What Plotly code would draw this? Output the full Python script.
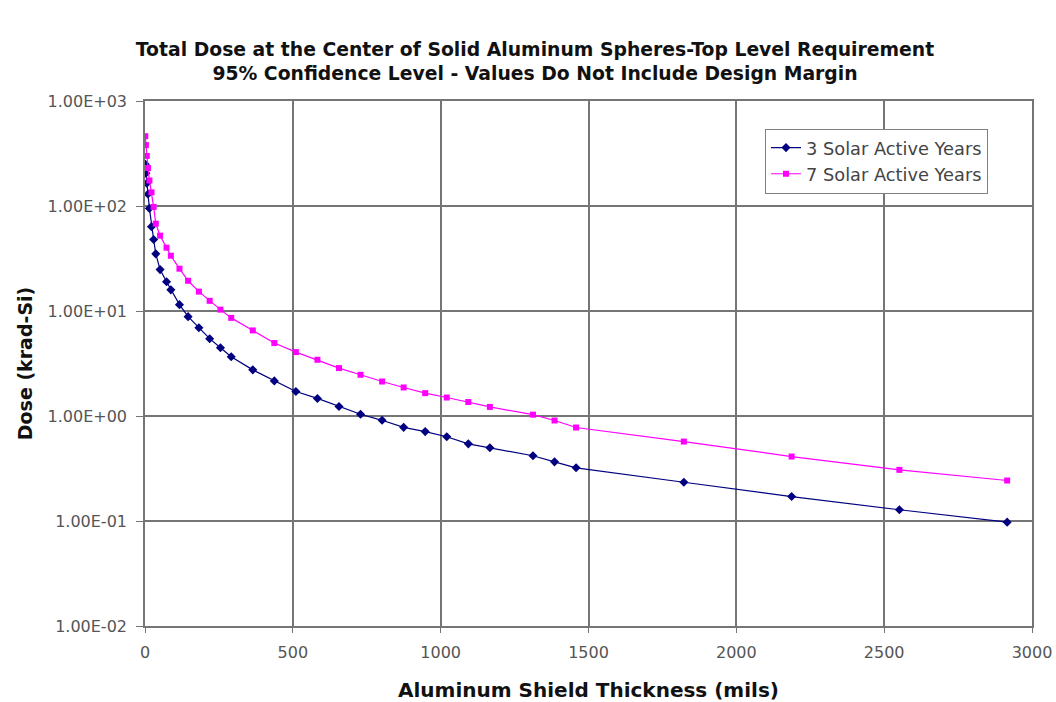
import plotly.graph_objects as go

# Aluminum shield thickness (mils)
thickness_mils = [1, 3, 6, 10, 15, 21.9, 29.2, 36.5, 51, 72.9, 87.5, 116.6, 145.8,
                  182.3, 218.7, 255.2, 291.6, 364.5, 437.4, 510.3, 583.2, 656.1,
                  729.0, 801.9, 874.8, 947.7, 1020.6, 1093.5, 1166.4, 1312.2,
                  1385.1, 1458.0, 1822.5, 2187.0, 2551.5, 2916.0]

# Dose (krad-Si)
dose_3yr = [250, 205, 165, 130, 95, 63.6, 48, 35, 24.8, 19.0, 15.9, 11.5, 8.83,
            6.93, 5.45, 4.47, 3.67, 2.75, 2.16, 1.71, 1.47, 1.23, 1.04, 0.91,
            0.78, 0.71, 0.634, 0.543, 0.498, 0.418, 0.366, 0.321, 0.234, 0.171,
            0.128, 0.0975]
dose_7yr = [462, 380, 300, 230, 175, 135, 98, 67.9, 52.2, 40.1, 33.6, 25.3, 19.4,
            15.3, 12.5, 10.3, 8.6, 6.53, 4.95, 4.06, 3.43, 2.86, 2.47, 2.13,
            1.87, 1.65, 1.50, 1.36, 1.22, 1.03, 0.906, 0.777, 0.571, 0.411,
            0.307, 0.243]

series_names = ["3 Solar Active Years", "7 Solar Active Years"]

y_tickvals = [1e-2, 1e-1, 1e0, 1e1, 1e2, 1e3]
y_ticktext = ["1.00E-02", "1.00E-01", "1.00E+00", "1.00E+01", "1.00E+02", "1.00E+03"]
x_tickvals = [0, 500, 1000, 1500, 2000, 2500, 3000]

FONT = "DejaVu Sans, Liberation Sans, sans-serif"
GRID = "#757575"

fig = go.Figure()
fig.add_trace(go.Scatter(
    x=thickness_mils, y=dose_3yr, name=series_names[0], mode="lines+markers",
    line=dict(color="#000080", width=1.2),
    marker=dict(symbol="diamond", size=7, color="#000080"),
))
fig.add_trace(go.Scatter(
    x=thickness_mils, y=dose_7yr, name=series_names[1], mode="lines+markers",
    line=dict(color="#FF00FF", width=1.2),
    marker=dict(symbol="square", size=6, color="#FF00FF"),
))

fig.update_layout(
    width=1056, height=702,
    margin=dict(l=145, r=24, t=101, b=76, autoexpand=False),
    paper_bgcolor="white", plot_bgcolor="white",
    font=dict(family=FONT, size=16, color="#444"),
    title=dict(
        text="Total Dose at the Center of Solid Aluminum Spheres-Top Level Requirement<br>"
             "95% Confidence Level - Values Do Not Include Design Margin",
        x=535 / 1056, xanchor="center", y=1 - 56 / 702, yanchor="middle",
        font=dict(family=FONT, size=18.8, color="#111", weight="bold"),
    ),
    showlegend=True,
    legend=dict(
        x=(765 - 145) / (1032 - 145), y=(626 - 129) / (626 - 101.5),
        xanchor="left", yanchor="top",
        bgcolor="white", bordercolor="#808080", borderwidth=1,
        font=dict(family=FONT, size=17.8, color="#444"),
        itemwidth=30, tracegroupgap=0,
    ),
    xaxis=dict(
        range=[0, 3000], tickvals=x_tickvals, automargin=False,
        showgrid=True, gridcolor=GRID, gridwidth=1.6,
        showline=True, linecolor=GRID, linewidth=1.6, mirror=True,
        ticks="outside", ticklen=5, tickcolor=GRID, ticklabelstandoff=6,
        zeroline=False,
        tickfont=dict(family=FONT, size=16, color="#555"),
        title=dict(text="<b>Aluminum Shield Thickness (mils)</b>", standoff=22,
                   font=dict(family=FONT, size=20, color="#111")),
    ),
    yaxis=dict(
        type="log", range=[-2, 3], tickvals=y_tickvals, ticktext=y_ticktext,
        automargin=False,
        showgrid=True, gridcolor=GRID, gridwidth=1.6,
        showline=True, linecolor=GRID, linewidth=1.6, mirror=True,
        ticks="outside", ticklen=7, tickcolor=GRID, ticklabelstandoff=6,
        zeroline=False,
        tickfont=dict(family=FONT, size=16, color="#555"),
        title=dict(text="<b>Dose (krad-Si)</b>", standoff=10,
                   font=dict(family=FONT, size=19, color="#111")),
    ),
)

fig.write_html("out.html")
